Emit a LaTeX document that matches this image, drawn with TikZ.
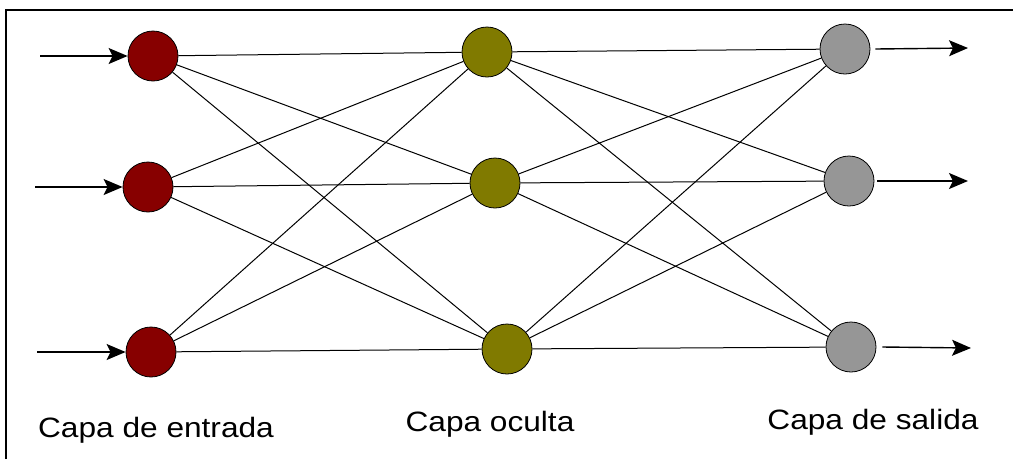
\documentclass[tikz,border=0pt]{standalone}
\usepackage{fontspec}
\setmainfont{Liberation Sans}
\usetikzlibrary{arrows.meta}
\definecolor{inred}{RGB}{135,0,0}
\definecolor{hidol}{RGB}{128,122,0}
\definecolor{outgr}{RGB}{150,150,150}
\begin{document}
\begin{tikzpicture}[x=1pt,y=-1pt,
  neuron/.style={circle,draw=black,line width=0.8pt,minimum size=50pt,inner sep=0pt},
  inneuron/.style={neuron,fill=inred},
  hidneuron/.style={neuron,fill=hidol},
  outneuron/.style={neuron,fill=outgr},
  link/.style={line width=1pt,black},
  io/.style={line width=1.4pt,black,-{Stealth[length=19pt,width=16pt,inset=4pt]}},
  layerlabel/.style={font=\fontsize{28}{32}\selectfont,inner sep=0pt,anchor=base}]
\useasboundingbox (0,0) rectangle (1013,459);
\fill[white] (0,0) rectangle (1013,459);
\draw[line width=2.5pt] (6,459) -- (6,10) -- (1013,10);

\node[inneuron] (i1) at (153,56) {};
\node[inneuron] (i2) at (148,187) {};
\node[inneuron] (i3) at (151,352) {};
\node[hidneuron] (h1) at (487,52) {};
\node[hidneuron] (h2) at (495,183) {};
\node[hidneuron] (h3) at (507,349) {};
\node[outneuron] (o1) at (845,49) {};
\node[outneuron] (o2) at (849,181) {};
\node[outneuron] (o3) at (851,347) {};

\foreach \a in {i1,i2,i3}{
  \foreach \b in {h1,h2,h3}{
    \draw[link] (\a) -- (\b);
  }
}
\foreach \a in {h1,h2,h3}{
  \foreach \b in {o1,o2,o3}{
    \draw[link] (\a) -- (\b);
  }
}

\coordinate (s1) at (40,56);
\coordinate (s2) at (35,187);
\coordinate (s3) at (37,352);
\draw[io] (s1) -- (i1);
\draw[io] (s2) -- (i2);
\draw[io] (s3) -- (i3);

\coordinate (e1) at (968,48);
\coordinate (e2) at (968,181);
\coordinate (e3) at (971,348);
\draw[io] ([xshift=5pt]o1.east) -- (e1);
\draw[io] ([xshift=3pt]o2.east) -- (e2);
\draw[io] ([xshift=6pt]o3.east) -- (e3);

\node[layerlabel] (l1) at (156,437) {\scalebox{1.13}[1]{Capa de entrada}};
\node[layerlabel] (l2) at (490,431) {\scalebox{1.13}[1]{Capa oculta}};
\node[layerlabel] (l3) at (873,429) {\scalebox{1.13}[1]{Capa de salida}};
\end{tikzpicture}
\end{document}
